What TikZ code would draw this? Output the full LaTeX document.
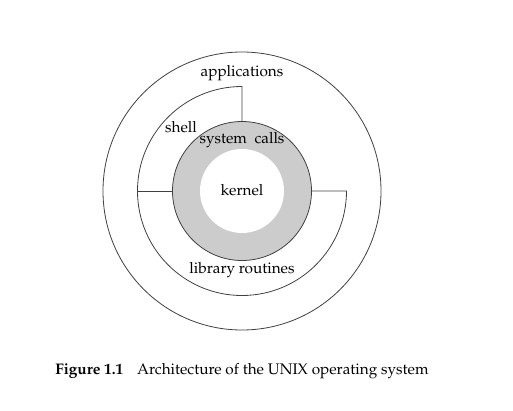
\documentclass[tikz,border=0pt]{standalone}
\usepackage[T1]{fontenc}
\usepackage{mathpazo}
\usetikzlibrary{positioning}

\begin{document}
\begin{tikzpicture}[x=0.75pt, y=0.75pt,
    ring/.style={draw=black!75, line width=0.6pt},
    txt/.style={font=\fontsize{11.5}{14}\selectfont, anchor=base, inner sep=0pt}
]
    \useasboundingbox (-242,-219) rectangle (271,191);
    % rings
    \draw [ring] (0,0) circle (139);
    \draw [ring, fill=black!20] (0,0) circle (69.5);
    \fill [white] (0,0) circle (42);
    % shell and library routines
    \coordinate (shtop) at (90:104.5);
    \coordinate (systop) at (90:69.5);
    \coordinate (shleft) at (180:104.5);
    \coordinate (sysleft) at (180:69.5);
    \coordinate (libright) at (0:104.5);
    \coordinate (sysright) at (0:69.5);
    \draw [ring] (systop) -- (shtop) arc (90:360:104.5) -- (sysright);
    \draw [ring] (shleft) -- (sysleft);
    % labels
    \node [txt] (apps) at (0,114) {applications};
    \node [txt] (shell) at (-61,58) {shell};
    \node [txt] (calls) at (0,47) {system~~calls};
    \node [txt] (kernel) at (0,-4) {kernel};
    \node [txt] (lib) at (0,-82) {library routines};
    \node [txt, anchor=base west] (caption) at (-187,-183)
        {\textbf{Figure 1.1}\hspace{0.9em}Architecture of the UNIX operating system};
\end{tikzpicture}
\end{document}
